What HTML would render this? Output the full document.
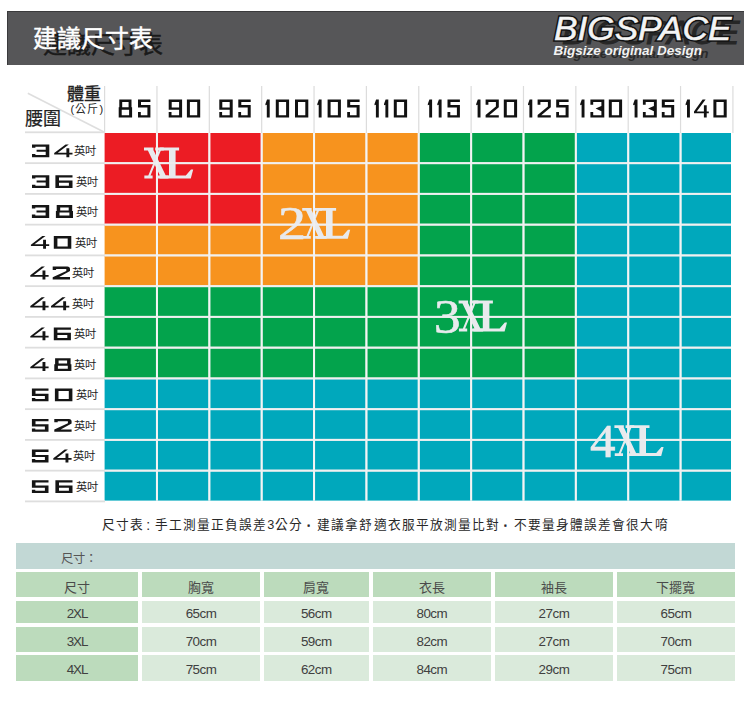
<!DOCTYPE html>
<html lang="zh-TW"><head><meta charset="utf-8">
<style>
html,body{margin:0;padding:0;background:#fff;}
body{width:750px;height:703px;position:relative;overflow:hidden;font-family:"Liberation Sans",sans-serif;}
.abs{position:absolute;white-space:nowrap;}
svg{position:absolute;left:0;top:0;}
.lb{position:absolute;white-space:nowrap;font-family:"Liberation Serif",serif;font-weight:normal;-webkit-text-stroke:0.6px #e8eaed;font-size:47.7px;line-height:47.7px;color:#e8eaed;transform-origin:0 0;}
</style></head><body>

<div class="abs" style="left:6.5px;top:10.5px;width:737px;height:54.5px;background:#565658;box-shadow:inset 1px 1px 0 #3a3a3c;"></div>
<div class="abs" style="left:42.5px;top:33.2px;font-size:23.9px;line-height:23.9px;color:#1a1a1a;-webkit-text-stroke:0.5px #1a1a1a;">建議尺寸表</div>
<div class="abs" style="left:32.9px;top:27.3px;font-size:23.9px;line-height:23.9px;color:#fff;-webkit-text-stroke:0.45px #fff;">建議尺寸表</div>
<svg width="750" height="703" viewBox="0 0 750 703">
<rect x="104.60" y="133.00" width="52.86" height="31.25" fill="#ec1c24"/>
<rect x="156.96" y="133.00" width="52.86" height="31.25" fill="#ec1c24"/>
<rect x="209.32" y="133.00" width="52.86" height="31.25" fill="#ec1c24"/>
<rect x="261.68" y="133.00" width="52.86" height="31.25" fill="#f7931e"/>
<rect x="314.04" y="133.00" width="52.86" height="31.25" fill="#f7931e"/>
<rect x="366.40" y="133.00" width="52.86" height="31.25" fill="#f7931e"/>
<rect x="418.76" y="133.00" width="52.86" height="31.25" fill="#03a34c"/>
<rect x="471.12" y="133.00" width="52.86" height="31.25" fill="#03a34c"/>
<rect x="523.48" y="133.00" width="52.86" height="31.25" fill="#03a34c"/>
<rect x="575.84" y="133.00" width="52.86" height="31.25" fill="#00a8bc"/>
<rect x="628.20" y="133.00" width="52.86" height="31.25" fill="#00a8bc"/>
<rect x="680.56" y="133.00" width="52.86" height="31.25" fill="#00a8bc"/>
<rect x="104.60" y="163.75" width="52.86" height="31.25" fill="#ec1c24"/>
<rect x="156.96" y="163.75" width="52.86" height="31.25" fill="#ec1c24"/>
<rect x="209.32" y="163.75" width="52.86" height="31.25" fill="#ec1c24"/>
<rect x="261.68" y="163.75" width="52.86" height="31.25" fill="#f7931e"/>
<rect x="314.04" y="163.75" width="52.86" height="31.25" fill="#f7931e"/>
<rect x="366.40" y="163.75" width="52.86" height="31.25" fill="#f7931e"/>
<rect x="418.76" y="163.75" width="52.86" height="31.25" fill="#03a34c"/>
<rect x="471.12" y="163.75" width="52.86" height="31.25" fill="#03a34c"/>
<rect x="523.48" y="163.75" width="52.86" height="31.25" fill="#03a34c"/>
<rect x="575.84" y="163.75" width="52.86" height="31.25" fill="#00a8bc"/>
<rect x="628.20" y="163.75" width="52.86" height="31.25" fill="#00a8bc"/>
<rect x="680.56" y="163.75" width="52.86" height="31.25" fill="#00a8bc"/>
<rect x="104.60" y="194.50" width="52.86" height="31.25" fill="#ec1c24"/>
<rect x="156.96" y="194.50" width="52.86" height="31.25" fill="#ec1c24"/>
<rect x="209.32" y="194.50" width="52.86" height="31.25" fill="#ec1c24"/>
<rect x="261.68" y="194.50" width="52.86" height="31.25" fill="#f7931e"/>
<rect x="314.04" y="194.50" width="52.86" height="31.25" fill="#f7931e"/>
<rect x="366.40" y="194.50" width="52.86" height="31.25" fill="#f7931e"/>
<rect x="418.76" y="194.50" width="52.86" height="31.25" fill="#03a34c"/>
<rect x="471.12" y="194.50" width="52.86" height="31.25" fill="#03a34c"/>
<rect x="523.48" y="194.50" width="52.86" height="31.25" fill="#03a34c"/>
<rect x="575.84" y="194.50" width="52.86" height="31.25" fill="#00a8bc"/>
<rect x="628.20" y="194.50" width="52.86" height="31.25" fill="#00a8bc"/>
<rect x="680.56" y="194.50" width="52.86" height="31.25" fill="#00a8bc"/>
<rect x="104.60" y="225.25" width="52.86" height="31.25" fill="#f7931e"/>
<rect x="156.96" y="225.25" width="52.86" height="31.25" fill="#f7931e"/>
<rect x="209.32" y="225.25" width="52.86" height="31.25" fill="#f7931e"/>
<rect x="261.68" y="225.25" width="52.86" height="31.25" fill="#f7931e"/>
<rect x="314.04" y="225.25" width="52.86" height="31.25" fill="#f7931e"/>
<rect x="366.40" y="225.25" width="52.86" height="31.25" fill="#f7931e"/>
<rect x="418.76" y="225.25" width="52.86" height="31.25" fill="#03a34c"/>
<rect x="471.12" y="225.25" width="52.86" height="31.25" fill="#03a34c"/>
<rect x="523.48" y="225.25" width="52.86" height="31.25" fill="#03a34c"/>
<rect x="575.84" y="225.25" width="52.86" height="31.25" fill="#00a8bc"/>
<rect x="628.20" y="225.25" width="52.86" height="31.25" fill="#00a8bc"/>
<rect x="680.56" y="225.25" width="52.86" height="31.25" fill="#00a8bc"/>
<rect x="104.60" y="256.00" width="52.86" height="31.25" fill="#f7931e"/>
<rect x="156.96" y="256.00" width="52.86" height="31.25" fill="#f7931e"/>
<rect x="209.32" y="256.00" width="52.86" height="31.25" fill="#f7931e"/>
<rect x="261.68" y="256.00" width="52.86" height="31.25" fill="#f7931e"/>
<rect x="314.04" y="256.00" width="52.86" height="31.25" fill="#f7931e"/>
<rect x="366.40" y="256.00" width="52.86" height="31.25" fill="#f7931e"/>
<rect x="418.76" y="256.00" width="52.86" height="31.25" fill="#03a34c"/>
<rect x="471.12" y="256.00" width="52.86" height="31.25" fill="#03a34c"/>
<rect x="523.48" y="256.00" width="52.86" height="31.25" fill="#03a34c"/>
<rect x="575.84" y="256.00" width="52.86" height="31.25" fill="#00a8bc"/>
<rect x="628.20" y="256.00" width="52.86" height="31.25" fill="#00a8bc"/>
<rect x="680.56" y="256.00" width="52.86" height="31.25" fill="#00a8bc"/>
<rect x="104.60" y="286.75" width="52.86" height="31.25" fill="#03a34c"/>
<rect x="156.96" y="286.75" width="52.86" height="31.25" fill="#03a34c"/>
<rect x="209.32" y="286.75" width="52.86" height="31.25" fill="#03a34c"/>
<rect x="261.68" y="286.75" width="52.86" height="31.25" fill="#03a34c"/>
<rect x="314.04" y="286.75" width="52.86" height="31.25" fill="#03a34c"/>
<rect x="366.40" y="286.75" width="52.86" height="31.25" fill="#03a34c"/>
<rect x="418.76" y="286.75" width="52.86" height="31.25" fill="#03a34c"/>
<rect x="471.12" y="286.75" width="52.86" height="31.25" fill="#03a34c"/>
<rect x="523.48" y="286.75" width="52.86" height="31.25" fill="#03a34c"/>
<rect x="575.84" y="286.75" width="52.86" height="31.25" fill="#00a8bc"/>
<rect x="628.20" y="286.75" width="52.86" height="31.25" fill="#00a8bc"/>
<rect x="680.56" y="286.75" width="52.86" height="31.25" fill="#00a8bc"/>
<rect x="104.60" y="317.50" width="52.86" height="31.25" fill="#03a34c"/>
<rect x="156.96" y="317.50" width="52.86" height="31.25" fill="#03a34c"/>
<rect x="209.32" y="317.50" width="52.86" height="31.25" fill="#03a34c"/>
<rect x="261.68" y="317.50" width="52.86" height="31.25" fill="#03a34c"/>
<rect x="314.04" y="317.50" width="52.86" height="31.25" fill="#03a34c"/>
<rect x="366.40" y="317.50" width="52.86" height="31.25" fill="#03a34c"/>
<rect x="418.76" y="317.50" width="52.86" height="31.25" fill="#03a34c"/>
<rect x="471.12" y="317.50" width="52.86" height="31.25" fill="#03a34c"/>
<rect x="523.48" y="317.50" width="52.86" height="31.25" fill="#03a34c"/>
<rect x="575.84" y="317.50" width="52.86" height="31.25" fill="#00a8bc"/>
<rect x="628.20" y="317.50" width="52.86" height="31.25" fill="#00a8bc"/>
<rect x="680.56" y="317.50" width="52.86" height="31.25" fill="#00a8bc"/>
<rect x="104.60" y="348.25" width="52.86" height="31.25" fill="#03a34c"/>
<rect x="156.96" y="348.25" width="52.86" height="31.25" fill="#03a34c"/>
<rect x="209.32" y="348.25" width="52.86" height="31.25" fill="#03a34c"/>
<rect x="261.68" y="348.25" width="52.86" height="31.25" fill="#03a34c"/>
<rect x="314.04" y="348.25" width="52.86" height="31.25" fill="#03a34c"/>
<rect x="366.40" y="348.25" width="52.86" height="31.25" fill="#03a34c"/>
<rect x="418.76" y="348.25" width="52.86" height="31.25" fill="#03a34c"/>
<rect x="471.12" y="348.25" width="52.86" height="31.25" fill="#03a34c"/>
<rect x="523.48" y="348.25" width="52.86" height="31.25" fill="#03a34c"/>
<rect x="575.84" y="348.25" width="52.86" height="31.25" fill="#00a8bc"/>
<rect x="628.20" y="348.25" width="52.86" height="31.25" fill="#00a8bc"/>
<rect x="680.56" y="348.25" width="52.86" height="31.25" fill="#00a8bc"/>
<rect x="104.60" y="379.00" width="52.86" height="31.25" fill="#00a8bc"/>
<rect x="156.96" y="379.00" width="52.86" height="31.25" fill="#00a8bc"/>
<rect x="209.32" y="379.00" width="52.86" height="31.25" fill="#00a8bc"/>
<rect x="261.68" y="379.00" width="52.86" height="31.25" fill="#00a8bc"/>
<rect x="314.04" y="379.00" width="52.86" height="31.25" fill="#00a8bc"/>
<rect x="366.40" y="379.00" width="52.86" height="31.25" fill="#00a8bc"/>
<rect x="418.76" y="379.00" width="52.86" height="31.25" fill="#00a8bc"/>
<rect x="471.12" y="379.00" width="52.86" height="31.25" fill="#00a8bc"/>
<rect x="523.48" y="379.00" width="52.86" height="31.25" fill="#00a8bc"/>
<rect x="575.84" y="379.00" width="52.86" height="31.25" fill="#00a8bc"/>
<rect x="628.20" y="379.00" width="52.86" height="31.25" fill="#00a8bc"/>
<rect x="680.56" y="379.00" width="52.86" height="31.25" fill="#00a8bc"/>
<rect x="104.60" y="409.75" width="52.86" height="31.25" fill="#00a8bc"/>
<rect x="156.96" y="409.75" width="52.86" height="31.25" fill="#00a8bc"/>
<rect x="209.32" y="409.75" width="52.86" height="31.25" fill="#00a8bc"/>
<rect x="261.68" y="409.75" width="52.86" height="31.25" fill="#00a8bc"/>
<rect x="314.04" y="409.75" width="52.86" height="31.25" fill="#00a8bc"/>
<rect x="366.40" y="409.75" width="52.86" height="31.25" fill="#00a8bc"/>
<rect x="418.76" y="409.75" width="52.86" height="31.25" fill="#00a8bc"/>
<rect x="471.12" y="409.75" width="52.86" height="31.25" fill="#00a8bc"/>
<rect x="523.48" y="409.75" width="52.86" height="31.25" fill="#00a8bc"/>
<rect x="575.84" y="409.75" width="52.86" height="31.25" fill="#00a8bc"/>
<rect x="628.20" y="409.75" width="52.86" height="31.25" fill="#00a8bc"/>
<rect x="680.56" y="409.75" width="52.86" height="31.25" fill="#00a8bc"/>
<rect x="104.60" y="440.50" width="52.86" height="31.25" fill="#00a8bc"/>
<rect x="156.96" y="440.50" width="52.86" height="31.25" fill="#00a8bc"/>
<rect x="209.32" y="440.50" width="52.86" height="31.25" fill="#00a8bc"/>
<rect x="261.68" y="440.50" width="52.86" height="31.25" fill="#00a8bc"/>
<rect x="314.04" y="440.50" width="52.86" height="31.25" fill="#00a8bc"/>
<rect x="366.40" y="440.50" width="52.86" height="31.25" fill="#00a8bc"/>
<rect x="418.76" y="440.50" width="52.86" height="31.25" fill="#00a8bc"/>
<rect x="471.12" y="440.50" width="52.86" height="31.25" fill="#00a8bc"/>
<rect x="523.48" y="440.50" width="52.86" height="31.25" fill="#00a8bc"/>
<rect x="575.84" y="440.50" width="52.86" height="31.25" fill="#00a8bc"/>
<rect x="628.20" y="440.50" width="52.86" height="31.25" fill="#00a8bc"/>
<rect x="680.56" y="440.50" width="52.86" height="31.25" fill="#00a8bc"/>
<rect x="104.60" y="471.25" width="52.86" height="31.25" fill="#00a8bc"/>
<rect x="156.96" y="471.25" width="52.86" height="31.25" fill="#00a8bc"/>
<rect x="209.32" y="471.25" width="52.86" height="31.25" fill="#00a8bc"/>
<rect x="261.68" y="471.25" width="52.86" height="31.25" fill="#00a8bc"/>
<rect x="314.04" y="471.25" width="52.86" height="31.25" fill="#00a8bc"/>
<rect x="366.40" y="471.25" width="52.86" height="31.25" fill="#00a8bc"/>
<rect x="418.76" y="471.25" width="52.86" height="31.25" fill="#00a8bc"/>
<rect x="471.12" y="471.25" width="52.86" height="31.25" fill="#00a8bc"/>
<rect x="523.48" y="471.25" width="52.86" height="31.25" fill="#00a8bc"/>
<rect x="575.84" y="471.25" width="52.86" height="31.25" fill="#00a8bc"/>
<rect x="628.20" y="471.25" width="52.86" height="31.25" fill="#00a8bc"/>
<rect x="680.56" y="471.25" width="52.86" height="31.25" fill="#00a8bc"/>
<rect x="731" y="120" width="19" height="400" fill="#fff"/>
<rect x="90" y="500.60" width="660" height="10" fill="#fff"/>
<rect x="155.96" y="133.0" width="2" height="367.60" fill="#f4f4f4"/>
<rect x="208.32" y="133.0" width="2" height="367.60" fill="#f4f4f4"/>
<rect x="260.68" y="133.0" width="2" height="367.60" fill="#f4f4f4"/>
<rect x="313.04" y="133.0" width="2" height="367.60" fill="#f4f4f4"/>
<rect x="365.40" y="133.0" width="2" height="367.60" fill="#f4f4f4"/>
<rect x="417.76" y="133.0" width="2" height="367.60" fill="#f4f4f4"/>
<rect x="470.12" y="133.0" width="2" height="367.60" fill="#f4f4f4"/>
<rect x="522.48" y="133.0" width="2" height="367.60" fill="#f4f4f4"/>
<rect x="574.84" y="133.0" width="2" height="367.60" fill="#f4f4f4"/>
<rect x="627.20" y="133.0" width="2" height="367.60" fill="#f4f4f4"/>
<rect x="679.56" y="133.0" width="2" height="367.60" fill="#f4f4f4"/>
<rect x="104.6" y="162.15" width="626.40" height="2" fill="#f0f0f0"/>
<rect x="104.6" y="192.90" width="626.40" height="2" fill="#f0f0f0"/>
<rect x="104.6" y="223.65" width="626.40" height="2" fill="#f0f0f0"/>
<rect x="104.6" y="254.40" width="626.40" height="2" fill="#f0f0f0"/>
<rect x="104.6" y="285.15" width="626.40" height="2" fill="#f0f0f0"/>
<rect x="104.6" y="315.90" width="626.40" height="2" fill="#f0f0f0"/>
<rect x="104.6" y="346.65" width="626.40" height="2" fill="#f0f0f0"/>
<rect x="104.6" y="377.40" width="626.40" height="2" fill="#f0f0f0"/>
<rect x="104.6" y="408.15" width="626.40" height="2" fill="#f0f0f0"/>
<rect x="104.6" y="438.90" width="626.40" height="2" fill="#f0f0f0"/>
<rect x="104.6" y="469.65" width="626.40" height="2" fill="#f0f0f0"/>
<rect x="104.00" y="86" width="1.2" height="47" fill="#dcdcdc"/>
<rect x="156.36" y="86" width="1.2" height="47" fill="#dcdcdc"/>
<rect x="208.72" y="86" width="1.2" height="47" fill="#dcdcdc"/>
<rect x="261.08" y="86" width="1.2" height="47" fill="#dcdcdc"/>
<rect x="313.44" y="86" width="1.2" height="47" fill="#dcdcdc"/>
<rect x="365.80" y="86" width="1.2" height="47" fill="#dcdcdc"/>
<rect x="418.16" y="86" width="1.2" height="47" fill="#dcdcdc"/>
<rect x="470.52" y="86" width="1.2" height="47" fill="#dcdcdc"/>
<rect x="522.88" y="86" width="1.2" height="47" fill="#dcdcdc"/>
<rect x="575.24" y="86" width="1.2" height="47" fill="#dcdcdc"/>
<rect x="627.60" y="86" width="1.2" height="47" fill="#dcdcdc"/>
<rect x="679.96" y="86" width="1.2" height="47" fill="#dcdcdc"/>
<rect x="732.32" y="86" width="1.2" height="47" fill="#dcdcdc"/>
<rect x="25" y="131.4" width="80" height="1.8" fill="#dedede"/>
<rect x="25" y="162.25" width="80" height="1.8" fill="#dedede"/>
<rect x="25" y="193.00" width="80" height="1.8" fill="#dedede"/>
<rect x="25" y="223.75" width="80" height="1.8" fill="#dedede"/>
<rect x="25" y="254.50" width="80" height="1.8" fill="#dedede"/>
<rect x="25" y="285.25" width="80" height="1.8" fill="#dedede"/>
<rect x="25" y="316.00" width="80" height="1.8" fill="#dedede"/>
<rect x="25" y="346.75" width="80" height="1.8" fill="#dedede"/>
<rect x="25" y="377.50" width="80" height="1.8" fill="#dedede"/>
<rect x="25" y="408.25" width="80" height="1.8" fill="#dedede"/>
<rect x="25" y="439.00" width="80" height="1.8" fill="#dedede"/>
<rect x="25" y="469.75" width="80" height="1.8" fill="#dedede"/>
<rect x="25" y="500.50" width="80" height="1.8" fill="#dedede"/>
<line x1="27.8" y1="93.2" x2="104" y2="132" stroke="#dedede" stroke-width="1.6"/>
<g fill="#111">
<path transform="translate(118.70,99.60)" d="M0.6,0H12.8V7.7H13.4V18H0V7.7H0.6Z M3.5,2.3V7.7H9.9V2.3Z M3,10.1V15.7H10.4V10.1Z"/>
<path transform="translate(138.00,99.60)" d="M0,0H12.4V2.4H3V5.4H12.4V18H0V12.5H2.8V15.6H9.4V7.8H0Z"/>
<path transform="translate(168.70,99.60)" d="M0,0H13.4V18H0V12.5H2.8V15.6H10.4V10.2H0Z M3,2.3V7.8H10.4V2.3Z"/>
<path transform="translate(186.90,99.60)" d="M0,0H13.3V18H0Z M3,2.3V15.7H10.3V2.3Z"/>
<path transform="translate(219.30,99.60)" d="M0,0H13.4V18H0V12.5H2.8V15.6H10.4V10.2H0Z M3,2.3V7.8H10.4V2.3Z"/>
<path transform="translate(238.30,99.60)" d="M0,0H12.4V2.4H3V5.4H12.4V18H0V12.5H2.8V15.6H9.4V7.8H0Z"/>
<path transform="translate(265.40,99.60)" d="M0,4.3L1.6,0H4.3V18H1.4V5.1L0,5.7Z"/>
<path transform="translate(275.80,99.60)" d="M0,0H13.3V18H0Z M3,2.3V15.7H10.3V2.3Z"/>
<path transform="translate(295.00,99.60)" d="M0,0H13.3V18H0Z M3,2.3V15.7H10.3V2.3Z"/>
<path transform="translate(317.30,99.60)" d="M0,4.3L1.6,0H4.3V18H1.4V5.1L0,5.7Z"/>
<path transform="translate(327.60,99.60)" d="M0,0H13.3V18H0Z M3,2.3V15.7H10.3V2.3Z"/>
<path transform="translate(347.20,99.60)" d="M0,0H12.4V2.4H3V5.4H12.4V18H0V12.5H2.8V15.6H9.4V7.8H0Z"/>
<path transform="translate(374.50,99.60)" d="M0,4.3L1.6,0H4.3V18H1.4V5.1L0,5.7Z"/>
<path transform="translate(384.00,99.60)" d="M0,4.3L1.6,0H4.3V18H1.4V5.1L0,5.7Z"/>
<path transform="translate(393.80,99.60)" d="M0,0H13.3V18H0Z M3,2.3V15.7H10.3V2.3Z"/>
<path transform="translate(427.80,99.60)" d="M0,4.3L1.6,0H4.3V18H1.4V5.1L0,5.7Z"/>
<path transform="translate(437.30,99.60)" d="M0,4.3L1.6,0H4.3V18H1.4V5.1L0,5.7Z"/>
<path transform="translate(447.50,99.60)" d="M0,0H12.4V2.4H3V5.4H12.4V18H0V12.5H2.8V15.6H9.4V7.8H0Z"/>
<path transform="translate(476.20,99.60)" d="M0,4.3L1.6,0H4.3V18H1.4V5.1L0,5.7Z"/>
<path transform="translate(485.60,99.60)" d="M0,0H13.2V7.6L3.7,15.6H13.2V18H0V15.4L10.3,6.8V2.4H2.8V5.2H0Z"/>
<path transform="translate(503.80,99.60)" d="M0,0H13.3V18H0Z M3,2.3V15.7H10.3V2.3Z"/>
<path transform="translate(528.00,99.60)" d="M0,4.3L1.6,0H4.3V18H1.4V5.1L0,5.7Z"/>
<path transform="translate(537.60,99.60)" d="M0,0H13.2V7.6L3.7,15.6H13.2V18H0V15.4L10.3,6.8V2.4H2.8V5.2H0Z"/>
<path transform="translate(556.20,99.60)" d="M0,0H12.4V2.4H3V5.4H12.4V18H0V12.5H2.8V15.6H9.4V7.8H0Z"/>
<path transform="translate(580.20,99.60)" d="M0,4.3L1.6,0H4.3V18H1.4V5.1L0,5.7Z"/>
<path transform="translate(590.40,99.60)" d="M0,0H13.9V18H0V12.5H2.8V15.6H11V11.6L5.2,9L11,6.4V2.4H2.8V5.2H0Z"/>
<path transform="translate(608.80,99.60)" d="M0,0H13.3V18H0Z M3,2.3V15.7H10.3V2.3Z"/>
<path transform="translate(633.20,99.60)" d="M0,4.3L1.6,0H4.3V18H1.4V5.1L0,5.7Z"/>
<path transform="translate(642.90,99.60)" d="M0,0H13.9V18H0V12.5H2.8V15.6H11V11.6L5.2,9L11,6.4V2.4H2.8V5.2H0Z"/>
<path transform="translate(661.80,99.60)" d="M0,0H12.4V2.4H3V5.4H12.4V18H0V12.5H2.8V15.6H9.4V7.8H0Z"/>
<path transform="translate(685.60,99.60)" d="M0,4.3L1.6,0H4.3V18H1.4V5.1L0,5.7Z"/>
<path transform="translate(694.00,99.60)" d="M8.6,0H11.6L2.7,11.8H14.8V13.6H0V11.8Z M9.9,5.6H12.7V18H9.9Z"/>
<path transform="translate(713.40,99.60)" d="M0,0H13.3V18H0Z M3,2.3V15.7H10.3V2.3Z"/>
</g>
<g fill="#151515">
<path transform="translate(32.00,144.40)" d="M0,0H17.3V12.8H0V9.5H3.4V10.5H13.7V7.4H4.6V5.4H13.7V2.3H3.4V3.3H0Z"/>
<path transform="translate(54.20,144.40)" d="M11.4,0H14.6L3.6,8.3H18.3V10.1H0V8.7Z M12.2,3.8H15.1V12.8H12.2Z"/>
<path transform="translate(32.00,175.15)" d="M0,0H17.3V12.8H0V9.5H3.4V10.5H13.7V7.4H4.6V5.4H13.7V2.3H3.4V3.3H0Z"/>
<path transform="translate(55.40,175.15)" d="M0,0H17.1V2.3H3.6V5.3H17.1V12.8H0Z M3.6,7.5V10.5H13.5V7.5Z"/>
<path transform="translate(31.90,205.10)" d="M0,0H17.3V12.8H0V9.5H3.4V10.5H13.7V7.4H4.6V5.4H13.7V2.3H3.4V3.3H0Z"/>
<path transform="translate(55.90,205.10)" d="M0.8,0H16.3V6H17.1V12.8H0V6H0.8Z M4.3,2.3V5.3H12.8V2.3Z M3.6,7.5V10.5H13.5V7.5Z"/>
<path transform="translate(30.90,236.00)" d="M11.4,0H14.6L3.6,8.3H18.3V10.1H0V8.7Z M12.2,3.8H15.1V12.8H12.2Z"/>
<path transform="translate(53.80,236.00)" d="M0,0H17.5V12.8H0Z M3.6,2.4V10.4H13.9V2.4Z"/>
<path transform="translate(30.30,266.60)" d="M11.4,0H14.6L3.6,8.3H18.3V10.1H0V8.7Z M12.2,3.8H15.1V12.8H12.2Z"/>
<path transform="translate(52.70,266.60)" d="M0,0H14.6Q17.3,0 17.3,2.6V4.5L6.4,10.5H17.3V12.8H0V10.6L13.6,4.3V2.3H3.4V3.3H0Z"/>
<path transform="translate(30.30,297.35)" d="M11.4,0H14.6L3.6,8.3H18.3V10.1H0V8.7Z M12.2,3.8H15.1V12.8H12.2Z"/>
<path transform="translate(51.00,297.35)" d="M11.4,0H14.6L3.6,8.3H18.3V10.1H0V8.7Z M12.2,3.8H15.1V12.8H12.2Z"/>
<path transform="translate(30.30,327.50)" d="M11.4,0H14.6L3.6,8.3H18.3V10.1H0V8.7Z M12.2,3.8H15.1V12.8H12.2Z"/>
<path transform="translate(53.80,327.50)" d="M0,0H17.1V2.3H3.6V5.3H17.1V12.8H0Z M3.6,7.5V10.5H13.5V7.5Z"/>
<path transform="translate(30.30,358.20)" d="M11.4,0H14.6L3.6,8.3H18.3V10.1H0V8.7Z M12.2,3.8H15.1V12.8H12.2Z"/>
<path transform="translate(54.30,358.20)" d="M0.8,0H16.3V6H17.1V12.8H0V6H0.8Z M4.3,2.3V5.3H12.8V2.3Z M3.6,7.5V10.5H13.5V7.5Z"/>
<path transform="translate(31.90,388.50)" d="M0,0H16.6V2.3H3.6V5.3H16.6V12.8H0V9.5H3.4V10.5H13V7.5H0Z"/>
<path transform="translate(54.90,388.50)" d="M0,0H17.5V12.8H0Z M3.6,2.4V10.4H13.9V2.4Z"/>
<path transform="translate(31.90,419.00)" d="M0,0H16.6V2.3H3.6V5.3H16.6V12.8H0V9.5H3.4V10.5H13V7.5H0Z"/>
<path transform="translate(54.30,419.00)" d="M0,0H14.6Q17.3,0 17.3,2.6V4.5L6.4,10.5H17.3V12.8H0V10.6L13.6,4.3V2.3H3.4V3.3H0Z"/>
<path transform="translate(31.90,449.60)" d="M0,0H16.6V2.3H3.6V5.3H16.6V12.8H0V9.5H3.4V10.5H13V7.5H0Z"/>
<path transform="translate(53.30,449.60)" d="M11.4,0H14.6L3.6,8.3H18.3V10.1H0V8.7Z M12.2,3.8H15.1V12.8H12.2Z"/>
<path transform="translate(31.90,480.20)" d="M0,0H16.6V2.3H3.6V5.3H16.6V12.8H0V9.5H3.4V10.5H13V7.5H0Z"/>
<path transform="translate(55.40,480.20)" d="M0,0H17.1V2.3H3.6V5.3H17.1V12.8H0Z M3.6,7.5V10.5H13.5V7.5Z"/>
</g>
</svg>
<div class="abs" style="left:73.5px;top:146.2px;font-size:11.3px;line-height:11.3px;color:#222;">英吋</div>
<div class="abs" style="left:75.9px;top:177.0px;font-size:11.3px;line-height:11.3px;color:#222;">英吋</div>
<div class="abs" style="left:76.2px;top:206.9px;font-size:11.3px;line-height:11.3px;color:#222;">英吋</div>
<div class="abs" style="left:74.6px;top:237.8px;font-size:11.3px;line-height:11.3px;color:#222;">英吋</div>
<div class="abs" style="left:71.5px;top:268.4px;font-size:11.3px;line-height:11.3px;color:#222;">英吋</div>
<div class="abs" style="left:71.5px;top:299.2px;font-size:11.3px;line-height:11.3px;color:#222;">英吋</div>
<div class="abs" style="left:73.5px;top:329.3px;font-size:11.3px;line-height:11.3px;color:#222;">英吋</div>
<div class="abs" style="left:74.0px;top:360.0px;font-size:11.3px;line-height:11.3px;color:#222;">英吋</div>
<div class="abs" style="left:75.7px;top:390.3px;font-size:11.3px;line-height:11.3px;color:#222;">英吋</div>
<div class="abs" style="left:73.5px;top:420.8px;font-size:11.3px;line-height:11.3px;color:#222;">英吋</div>
<div class="abs" style="left:73.0px;top:451.4px;font-size:11.3px;line-height:11.3px;color:#222;">英吋</div>
<div class="abs" style="left:75.7px;top:482.0px;font-size:11.3px;line-height:11.3px;color:#222;">英吋</div>
<div class="abs" style="left:66.7px;top:86px;font-size:17px;line-height:17px;color:#222;-webkit-text-stroke:0.35px #222;">體重</div>
<div class="abs" style="left:70.5px;top:104.3px;font-size:11px;line-height:11px;color:#222;letter-spacing:1.1px;">(公斤)</div>
<div class="abs" style="left:25.3px;top:110.3px;font-size:18px;line-height:18px;color:#222;-webkit-text-stroke:0.2px #222;">腰圍</div>
<div class="lb" style="left:277.56px;top:199.87px;transform:scale(1.174,0.978);">2</div>
<div class="lb" style="left:434.04px;top:291.56px;transform:scale(1.116,1.016);">3</div>
<div class="lb" style="left:589.68px;top:416.77px;transform:scale(1.072,0.993);">4</div>
<svg width="750" height="703" viewBox="0 0 750 703" style="position:absolute;left:0;top:0"><g fill="#e8eaed"><path transform="translate(144,147.6) scale(0.86,1)" d="M0,0H11V2.8H0Z M13,0H23V2.8H13Z M0.4,28H10V30.8H0.4Z M15,28H28.5V30.8H15Z M4.5,2.8L11.3,2.8L25.3,28L18.5,28Z M17,2.8L19.6,2.8L7.6,28L5,28Z"/><path transform="translate(159.6,147.6)" d="M0,0H19.5V2.8H16V27.8H26.2L31.4,21.8H33.6L31.2,30.8H0V28H9.4V2.8H0Z"/><path transform="translate(302.2,208) scale(0.86,1)" d="M0,0H11V2.8H0Z M13,0H23V2.8H13Z M0.4,28H10V30.8H0.4Z M15,28H28.5V30.8H15Z M4.5,2.8L11.3,2.8L25.3,28L18.5,28Z M17,2.8L19.6,2.8L7.6,28L5,28Z"/><path transform="translate(316.6,208)" d="M0,0H19.5V2.8H16V27.8H26.2L31.4,21.8H33.6L31.2,30.8H0V28H9.4V2.8H0Z"/><path transform="translate(458.6,300.6) scale(0.86,1)" d="M0,0H11V2.8H0Z M13,0H23V2.8H13Z M0.4,28H10V30.8H0.4Z M15,28H28.5V30.8H15Z M4.5,2.8L11.3,2.8L25.3,28L18.5,28Z M17,2.8L19.6,2.8L7.6,28L5,28Z"/><path transform="translate(473.4,300.6)" d="M0,0H19.5V2.8H16V27.8H26.2L31.4,21.8H33.6L31.2,30.8H0V28H9.4V2.8H0Z"/><path transform="translate(614.4,425.3) scale(0.86,1)" d="M0,0H11V2.8H0Z M13,0H23V2.8H13Z M0.4,28H10V30.8H0.4Z M15,28H28.5V30.8H15Z M4.5,2.8L11.3,2.8L25.3,28L18.5,28Z M17,2.8L19.6,2.8L7.6,28L5,28Z"/><path transform="translate(630,425.3)" d="M0,0H19.5V2.8H16V27.8H26.2L31.4,21.8H33.6L31.2,30.8H0V28H9.4V2.8H0Z"/></g><rect x="155.96" y="133.0" width="2" height="367.60" fill="#f4f4f4" fill-opacity="0.6"/><rect x="208.32" y="133.0" width="2" height="367.60" fill="#f4f4f4" fill-opacity="0.6"/><rect x="260.68" y="133.0" width="2" height="367.60" fill="#f4f4f4" fill-opacity="0.6"/><rect x="313.04" y="133.0" width="2" height="367.60" fill="#f4f4f4" fill-opacity="0.6"/><rect x="365.40" y="133.0" width="2" height="367.60" fill="#f4f4f4" fill-opacity="0.6"/><rect x="417.76" y="133.0" width="2" height="367.60" fill="#f4f4f4" fill-opacity="0.6"/><rect x="470.12" y="133.0" width="2" height="367.60" fill="#f4f4f4" fill-opacity="0.6"/><rect x="522.48" y="133.0" width="2" height="367.60" fill="#f4f4f4" fill-opacity="0.6"/><rect x="574.84" y="133.0" width="2" height="367.60" fill="#f4f4f4" fill-opacity="0.6"/><rect x="627.20" y="133.0" width="2" height="367.60" fill="#f4f4f4" fill-opacity="0.6"/><rect x="679.56" y="133.0" width="2" height="367.60" fill="#f4f4f4" fill-opacity="0.6"/><rect x="104.6" y="162.15" width="626.40" height="2" fill="#f0f0f0" fill-opacity="0.6"/><rect x="104.6" y="192.90" width="626.40" height="2" fill="#f0f0f0" fill-opacity="0.6"/><rect x="104.6" y="223.65" width="626.40" height="2" fill="#f0f0f0" fill-opacity="0.6"/><rect x="104.6" y="254.40" width="626.40" height="2" fill="#f0f0f0" fill-opacity="0.6"/><rect x="104.6" y="285.15" width="626.40" height="2" fill="#f0f0f0" fill-opacity="0.6"/><rect x="104.6" y="315.90" width="626.40" height="2" fill="#f0f0f0" fill-opacity="0.6"/><rect x="104.6" y="346.65" width="626.40" height="2" fill="#f0f0f0" fill-opacity="0.6"/><rect x="104.6" y="377.40" width="626.40" height="2" fill="#f0f0f0" fill-opacity="0.6"/><rect x="104.6" y="408.15" width="626.40" height="2" fill="#f0f0f0" fill-opacity="0.6"/><rect x="104.6" y="438.90" width="626.40" height="2" fill="#f0f0f0" fill-opacity="0.6"/><rect x="104.6" y="469.65" width="626.40" height="2" fill="#f0f0f0" fill-opacity="0.6"/></svg>
<div class="abs" style="left:101.5px;top:517.5px;font-size:12.7px;line-height:14px;color:#282828;letter-spacing:1.07px;">尺寸表<span style="display:inline-block;width:11px;text-align:center;position:relative;left:-0.5px;top:2.4px;font-size:14px;line-height:10px;vertical-align:top;">:</span>手工測量正負誤差3公分<span style="display:inline-block;width:13.7px;text-align:center;position:relative;top:0.3px;left:-1.2px;-webkit-text-stroke:0.9px #282828;">·</span>建議拿舒適衣服平放測量比對<span style="display:inline-block;width:13.7px;text-align:center;position:relative;top:0.3px;left:-1.2px;-webkit-text-stroke:0.9px #282828;">·</span>不要量身體誤差會很大唷</div>
<div class="abs" style="left:16px;top:543px;width:719.3px;height:25.5px;background:#c2d8d5;"></div>
<div class="abs" style="left:61.3px;top:552.5px;font-size:12.3px;line-height:12.3px;color:#555;">尺寸：</div>
<div class="abs" style="left:16px;top:572px;width:122.2px;height:25.0px;background:#bcdbbc;"></div>
<div class="abs" style="left:16px;top:575.0px;width:122.2px;height:25.0px;color:#4a4a4a;font-size:13px;line-height:25.0px;text-align:center;">尺寸</div>
<div class="abs" style="left:141.8px;top:572px;width:118.5px;height:25.0px;background:#bcdbbc;"></div>
<div class="abs" style="left:141.8px;top:575.0px;width:118.5px;height:25.0px;color:#4a4a4a;font-size:13px;line-height:25.0px;text-align:center;">胸寬</div>
<div class="abs" style="left:263.5px;top:572px;width:105.5px;height:25.0px;background:#bcdbbc;"></div>
<div class="abs" style="left:263.5px;top:575.0px;width:105.5px;height:25.0px;color:#4a4a4a;font-size:13px;line-height:25.0px;text-align:center;">肩寬</div>
<div class="abs" style="left:372.7px;top:572px;width:118.3px;height:25.0px;background:#bcdbbc;"></div>
<div class="abs" style="left:372.7px;top:575.0px;width:118.3px;height:25.0px;color:#4a4a4a;font-size:13px;line-height:25.0px;text-align:center;">衣長</div>
<div class="abs" style="left:494.8px;top:572px;width:118.3px;height:25.0px;background:#bcdbbc;"></div>
<div class="abs" style="left:494.8px;top:575.0px;width:118.3px;height:25.0px;color:#4a4a4a;font-size:13px;line-height:25.0px;text-align:center;">袖長</div>
<div class="abs" style="left:616.7px;top:572px;width:118.6px;height:25.0px;background:#bcdbbc;"></div>
<div class="abs" style="left:616.7px;top:575.0px;width:118.6px;height:25.0px;color:#4a4a4a;font-size:13px;line-height:25.0px;text-align:center;">下擺寬</div>
<div class="abs" style="left:16px;top:600.7px;width:122.2px;height:22.5px;background:#bcdbbc;"></div>
<div class="abs" style="left:16px;top:602.5px;width:122.2px;height:22.5px;color:#404040;font-size:13.4px;line-height:22.5px;text-align:center;letter-spacing:-1px;">2XL</div>
<div class="abs" style="left:141.8px;top:600.7px;width:118.5px;height:22.5px;background:#daeadb;"></div>
<div class="abs" style="left:141.8px;top:602.5px;width:118.5px;height:22.5px;color:#404040;font-size:13.4px;line-height:22.5px;text-align:center;letter-spacing:-0.5px;">65cm</div>
<div class="abs" style="left:263.5px;top:600.7px;width:105.5px;height:22.5px;background:#daeadb;"></div>
<div class="abs" style="left:263.5px;top:602.5px;width:105.5px;height:22.5px;color:#404040;font-size:13.4px;line-height:22.5px;text-align:center;letter-spacing:-0.5px;">56cm</div>
<div class="abs" style="left:372.7px;top:600.7px;width:118.3px;height:22.5px;background:#daeadb;"></div>
<div class="abs" style="left:372.7px;top:602.5px;width:118.3px;height:22.5px;color:#404040;font-size:13.4px;line-height:22.5px;text-align:center;letter-spacing:-0.5px;">80cm</div>
<div class="abs" style="left:494.8px;top:600.7px;width:118.3px;height:22.5px;background:#daeadb;"></div>
<div class="abs" style="left:494.8px;top:602.5px;width:118.3px;height:22.5px;color:#404040;font-size:13.4px;line-height:22.5px;text-align:center;letter-spacing:-0.5px;">27cm</div>
<div class="abs" style="left:616.7px;top:600.7px;width:118.6px;height:22.5px;background:#daeadb;"></div>
<div class="abs" style="left:616.7px;top:602.5px;width:118.6px;height:22.5px;color:#404040;font-size:13.4px;line-height:22.5px;text-align:center;letter-spacing:-0.5px;">65cm</div>
<div class="abs" style="left:16px;top:626.7px;width:122.2px;height:25.3px;background:#bcdbbc;"></div>
<div class="abs" style="left:16px;top:628.5px;width:122.2px;height:25.3px;color:#404040;font-size:13.4px;line-height:25.3px;text-align:center;letter-spacing:-1px;">3XL</div>
<div class="abs" style="left:141.8px;top:626.7px;width:118.5px;height:25.3px;background:#daeadb;"></div>
<div class="abs" style="left:141.8px;top:628.5px;width:118.5px;height:25.3px;color:#404040;font-size:13.4px;line-height:25.3px;text-align:center;letter-spacing:-0.5px;">70cm</div>
<div class="abs" style="left:263.5px;top:626.7px;width:105.5px;height:25.3px;background:#daeadb;"></div>
<div class="abs" style="left:263.5px;top:628.5px;width:105.5px;height:25.3px;color:#404040;font-size:13.4px;line-height:25.3px;text-align:center;letter-spacing:-0.5px;">59cm</div>
<div class="abs" style="left:372.7px;top:626.7px;width:118.3px;height:25.3px;background:#daeadb;"></div>
<div class="abs" style="left:372.7px;top:628.5px;width:118.3px;height:25.3px;color:#404040;font-size:13.4px;line-height:25.3px;text-align:center;letter-spacing:-0.5px;">82cm</div>
<div class="abs" style="left:494.8px;top:626.7px;width:118.3px;height:25.3px;background:#daeadb;"></div>
<div class="abs" style="left:494.8px;top:628.5px;width:118.3px;height:25.3px;color:#404040;font-size:13.4px;line-height:25.3px;text-align:center;letter-spacing:-0.5px;">27cm</div>
<div class="abs" style="left:616.7px;top:626.7px;width:118.6px;height:25.3px;background:#daeadb;"></div>
<div class="abs" style="left:616.7px;top:628.5px;width:118.6px;height:25.3px;color:#404040;font-size:13.4px;line-height:25.3px;text-align:center;letter-spacing:-0.5px;">70cm</div>
<div class="abs" style="left:16px;top:655px;width:122.2px;height:25.6px;background:#bcdbbc;"></div>
<div class="abs" style="left:16px;top:656.8px;width:122.2px;height:25.6px;color:#404040;font-size:13.4px;line-height:25.6px;text-align:center;letter-spacing:-1px;">4XL</div>
<div class="abs" style="left:141.8px;top:655px;width:118.5px;height:25.6px;background:#daeadb;"></div>
<div class="abs" style="left:141.8px;top:656.8px;width:118.5px;height:25.6px;color:#404040;font-size:13.4px;line-height:25.6px;text-align:center;letter-spacing:-0.5px;">75cm</div>
<div class="abs" style="left:263.5px;top:655px;width:105.5px;height:25.6px;background:#daeadb;"></div>
<div class="abs" style="left:263.5px;top:656.8px;width:105.5px;height:25.6px;color:#404040;font-size:13.4px;line-height:25.6px;text-align:center;letter-spacing:-0.5px;">62cm</div>
<div class="abs" style="left:372.7px;top:655px;width:118.3px;height:25.6px;background:#daeadb;"></div>
<div class="abs" style="left:372.7px;top:656.8px;width:118.3px;height:25.6px;color:#404040;font-size:13.4px;line-height:25.6px;text-align:center;letter-spacing:-0.5px;">84cm</div>
<div class="abs" style="left:494.8px;top:655px;width:118.3px;height:25.6px;background:#daeadb;"></div>
<div class="abs" style="left:494.8px;top:656.8px;width:118.3px;height:25.6px;color:#404040;font-size:13.4px;line-height:25.6px;text-align:center;letter-spacing:-0.5px;">29cm</div>
<div class="abs" style="left:616.7px;top:655px;width:118.6px;height:25.6px;background:#daeadb;"></div>
<div class="abs" style="left:616.7px;top:656.8px;width:118.6px;height:25.6px;color:#404040;font-size:13.4px;line-height:25.6px;text-align:center;letter-spacing:-0.5px;">75cm</div>
<div class="abs" style="left:562px;top:16.7px;font-size:32.3px;line-height:32.3px;font-style:italic;color:#262626;-webkit-text-stroke:1px #262626;transform:scaleX(1.09);transform-origin:0 0;">BIGSPACE</div>
<div class="abs" style="left:554px;top:12.7px;font-size:32.3px;line-height:32.3px;font-style:italic;color:#111;-webkit-text-stroke:3.4px #111;transform:scaleX(1.09);transform-origin:0 0;">BIGSPACE</div>
<div class="abs" style="left:554px;top:12.7px;font-size:32.3px;line-height:32.3px;font-style:italic;color:#f4f4f4;-webkit-text-stroke:0.5px #f4f4f4;transform:scaleX(1.09);transform-origin:0 0;">BIGSPACE</div>
<div class="abs" style="left:560px;top:47.4px;font-size:13.5px;line-height:13.5px;font-style:italic;font-weight:bold;color:#2a2a2a;">Bigsize original Design</div>
<div class="abs" style="left:553.5px;top:43.7px;font-size:13.5px;line-height:13.5px;font-style:italic;font-weight:bold;color:#f2f2f2;">Bigsize original Design</div>
</body></html>
